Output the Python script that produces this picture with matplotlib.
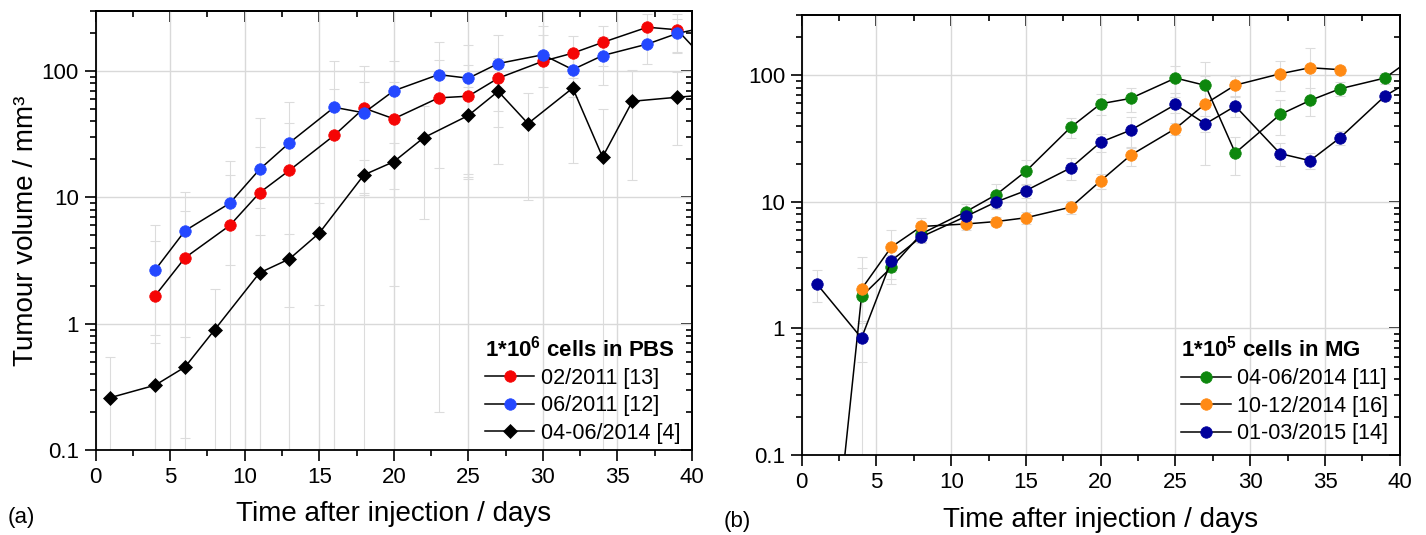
import numpy as np
import matplotlib.pyplot as plt
from matplotlib.ticker import FixedLocator, LogLocator, NullFormatter, FuncFormatter, MultipleLocator

plt.rcParams['font.family'] = ['Liberation Sans', 'DejaVu Sans']
plt.rcParams['mathtext.fontset'] = 'custom'
plt.rcParams['mathtext.rm'] = 'Liberation Sans'
plt.rcParams['mathtext.bf'] = 'Liberation Sans:bold'

# Panel (a): 1*10^6 cells in PBS
days_red = [4, 6, 9, 11, 13, 16, 18, 20, 23, 25, 27, 30, 32, 34, 37, 39, 41]
vol_red = [1.67, 3.33, 6.0, 10.9, 16.4, 31, 51, 42, 61.5, 63.4, 88, 120, 139, 169, 223, 213, 119]
err_red = [4.4, 7.8, 13.6, 32, 22.6, 41, 59, 40, 61.3, 48, 40, 110, 50, 60, 60, 70, 0]

days_blue = [4, 6, 9, 11, 13, 16, 18, 20, 23, 25, 27, 30, 32, 34, 37, 39, 41]
vol_blue = [2.67, 5.45, 9.0, 16.7, 27.1, 51.8, 46.8, 70, 94, 88, 115, 135, 103, 133, 164, 199, 224]
err_blue = [1.85, 2.3, 6.1, 8.5, 30.4, 68, 36, 50, 77, 74, 79, 60, 40, 55, 50, 60, 0]

days_blk = [1, 4, 6, 8, 11, 13, 15, 18, 20, 22, 25, 27, 29, 32, 34, 36, 39, 41]
vol_blk = [0.26, 0.326, 0.454, 0.90, 2.53, 3.26, 5.22, 15.1, 19.2, 29.7, 44.6, 69.3, 38.5, 73.6, 20.9, 57.8, 62.2, 65]
err_blk = [0.29, 0.38, 0.33, 1.0, 2.5, 1.9, 3.8, 4.7, 7.6, 23, 30, 51, 29, 55, 29, 44, 36, 0]

# Panel (b): 1*10^5 cells in MG
days_grn = [1, 4, 6, 8, 11, 13, 15, 18, 20, 22, 25, 27, 29, 32, 34, 36, 39, 41]
vol_grn = [0.00075, 1.79, 3.04, 5.6, 8.4, 11.4, 17.5, 39, 59.7, 65.8, 95.3, 83.4, 24.4, 49.1, 63.4, 78.4, 95.3, 141]
err_grn = [0, 1.9, 0.8, 0.8, 1.3, 2.5, 4, 7, 11, 14, 23, 44, 8, 15, 16, 10, 10, 0]

days_org = [4, 6, 8, 11, 13, 15, 18, 20, 22, 25, 27, 29, 32, 34, 36]
vol_org = [2.05, 4.41, 6.4, 6.7, 7.0, 7.5, 9.1, 14.7, 23.4, 38, 59.7, 83.8, 103, 115, 111]
err_org = [0.95, 1.6, 1.1, 0.7, 0.6, 0.8, 1.0, 2, 4, 4, 40, 15, 28, 50, 8]

days_nav = [1, 4, 6, 8, 11, 13, 15, 18, 20, 22, 25, 27, 29, 32, 34, 36, 39, 41]
vol_nav = [2.26, 0.84, 3.44, 5.3, 7.7, 10.0, 12.3, 18.6, 29.7, 36.9, 58.9, 41.4, 57.2, 24.1, 21.2, 32.1, 68.6, 95]
err_nav = [0.65, 0.3, 1.0, 0.6, 0.8, 1.2, 1.5, 3.7, 5, 10, 8, 6, 10, 5, 3, 4, 6, 0]


def style(ax):
    ax.set_yscale('log')
    ax.set_xlim(0, 40)
    ax.set_ylim(0.1, 300)
    ax.xaxis.set_major_locator(MultipleLocator(5))
    ax.xaxis.set_minor_locator(MultipleLocator(2.5))
    ax.yaxis.set_major_locator(FixedLocator([0.1, 1, 10, 100]))
    ax.yaxis.set_minor_locator(LogLocator(subs=np.arange(2, 10)))
    ax.yaxis.set_major_formatter(FuncFormatter(lambda v, p: f'{v:g}'))
    ax.yaxis.set_minor_formatter(NullFormatter())
    ax.tick_params(which='both', direction='out', width=1.2, labelsize=16, pad=4)
    ax.tick_params(which='major', length=8)
    ax.tick_params(which='minor', length=4)
    ax.grid(True, which='major', color='#d9d9d9', lw=1)
    for s in ax.spines.values():
        s.set_linewidth(1.3)
    # Origin-like mirrored ticks pointing inward
    top = ax.secondary_xaxis('top')
    top.xaxis.set_major_locator(MultipleLocator(5))
    top.xaxis.set_minor_locator(MultipleLocator(2.5))
    top.tick_params(which='both', direction='in', width=1.2, labeltop=False)
    top.tick_params(which='major', length=8)
    top.tick_params(which='minor', length=4)
    top.spines['top'].set_linewidth(1.3)
    right = ax.secondary_yaxis('right')
    right.yaxis.set_major_locator(FixedLocator([0.1, 1, 10, 100]))
    right.yaxis.set_minor_locator(LogLocator(subs=np.arange(2, 10)))
    right.yaxis.set_minor_formatter(NullFormatter())
    right.tick_params(which='both', direction='in', width=1.2, labelright=False)
    right.tick_params(which='major', length=8)
    right.tick_params(which='minor', length=4)
    right.spines['right'].set_linewidth(1.3)


def series(ax, d, v, e, col, marker, ms, label):
    ax.errorbar(d, v, yerr=e, fmt='none', ecolor='#dcdcdc', elinewidth=0.8,
                capsize=3.5, capthick=0.8, zorder=2)
    ax.plot(d, v, '-', color='black', lw=1.1, marker=marker, ms=ms, mfc=col,
            mec=col, mew=0.5, label=label, zorder=3)


fig = plt.figure(figsize=(14.26, 5.35), dpi=100)
axa = fig.add_axes([0.067, 0.1589, 0.4183, 0.8206])
axb = fig.add_axes([0.5622, 0.1495, 0.4194, 0.8224])

style(axa)
series(axa, days_red, vol_red, err_red, '#f50505', 'o', 8.3, '02/2011 [13]')
series(axa, days_blue, vol_blue, err_blue, '#2448ff', 'o', 8.3, '06/2011 [12]')
series(axa, days_blk, vol_blk, err_blk, 'black', 'D', 7, '04-06/2014 [4]')
axa.set_ylabel('Tumour volume / mm³', fontsize=20)
axa.yaxis.set_label_coords(-0.095, 0.5)
axa.set_xlabel('Time after injection / days', fontsize=20)
axa.xaxis.set_label_coords(0.5, -0.116)
axa.legend(loc='lower right', bbox_to_anchor=(0.995, -0.005), frameon=False,
           title=r'1*10$^\mathbf{6}$ cells in PBS', alignment='left',
           fontsize=15.5, title_fontproperties={'weight': 'bold', 'size': 16},
           handlelength=2.3, handletextpad=0.3, labelspacing=0.3,
           borderaxespad=0, borderpad=0.4)

style(axb)
series(axb, days_grn, vol_grn, err_grn, '#0d870d', 'o', 8.3, '04-06/2014 [11]')
series(axb, days_org, vol_org, err_org, '#ff8a14', 'o', 8.3, '10-12/2014 [16]')
series(axb, days_nav, vol_nav, err_nav, '#00009c', 'o', 8.3, '01-03/2015 [14]')
axb.set_xlabel('Time after injection / days', fontsize=20)
axb.xaxis.set_label_coords(0.5, -0.118)
axb.legend(loc='lower right', bbox_to_anchor=(0.995, 0.005), frameon=False,
           title=r'1*10$^\mathbf{5}$ cells in MG', alignment='left',
           fontsize=15.5, title_fontproperties={'weight': 'bold', 'size': 16},
           handlelength=2.3, handletextpad=0.3, labelspacing=0.3,
           borderaxespad=0, borderpad=0.4)

fig.text(8 / 1426, 1 - 518 / 535, '(a)', fontsize=16, va='center')
fig.text(724 / 1426, 1 - 522 / 535, '(b)', fontsize=16, va='center')

fig.savefig('out.png', dpi=100)
